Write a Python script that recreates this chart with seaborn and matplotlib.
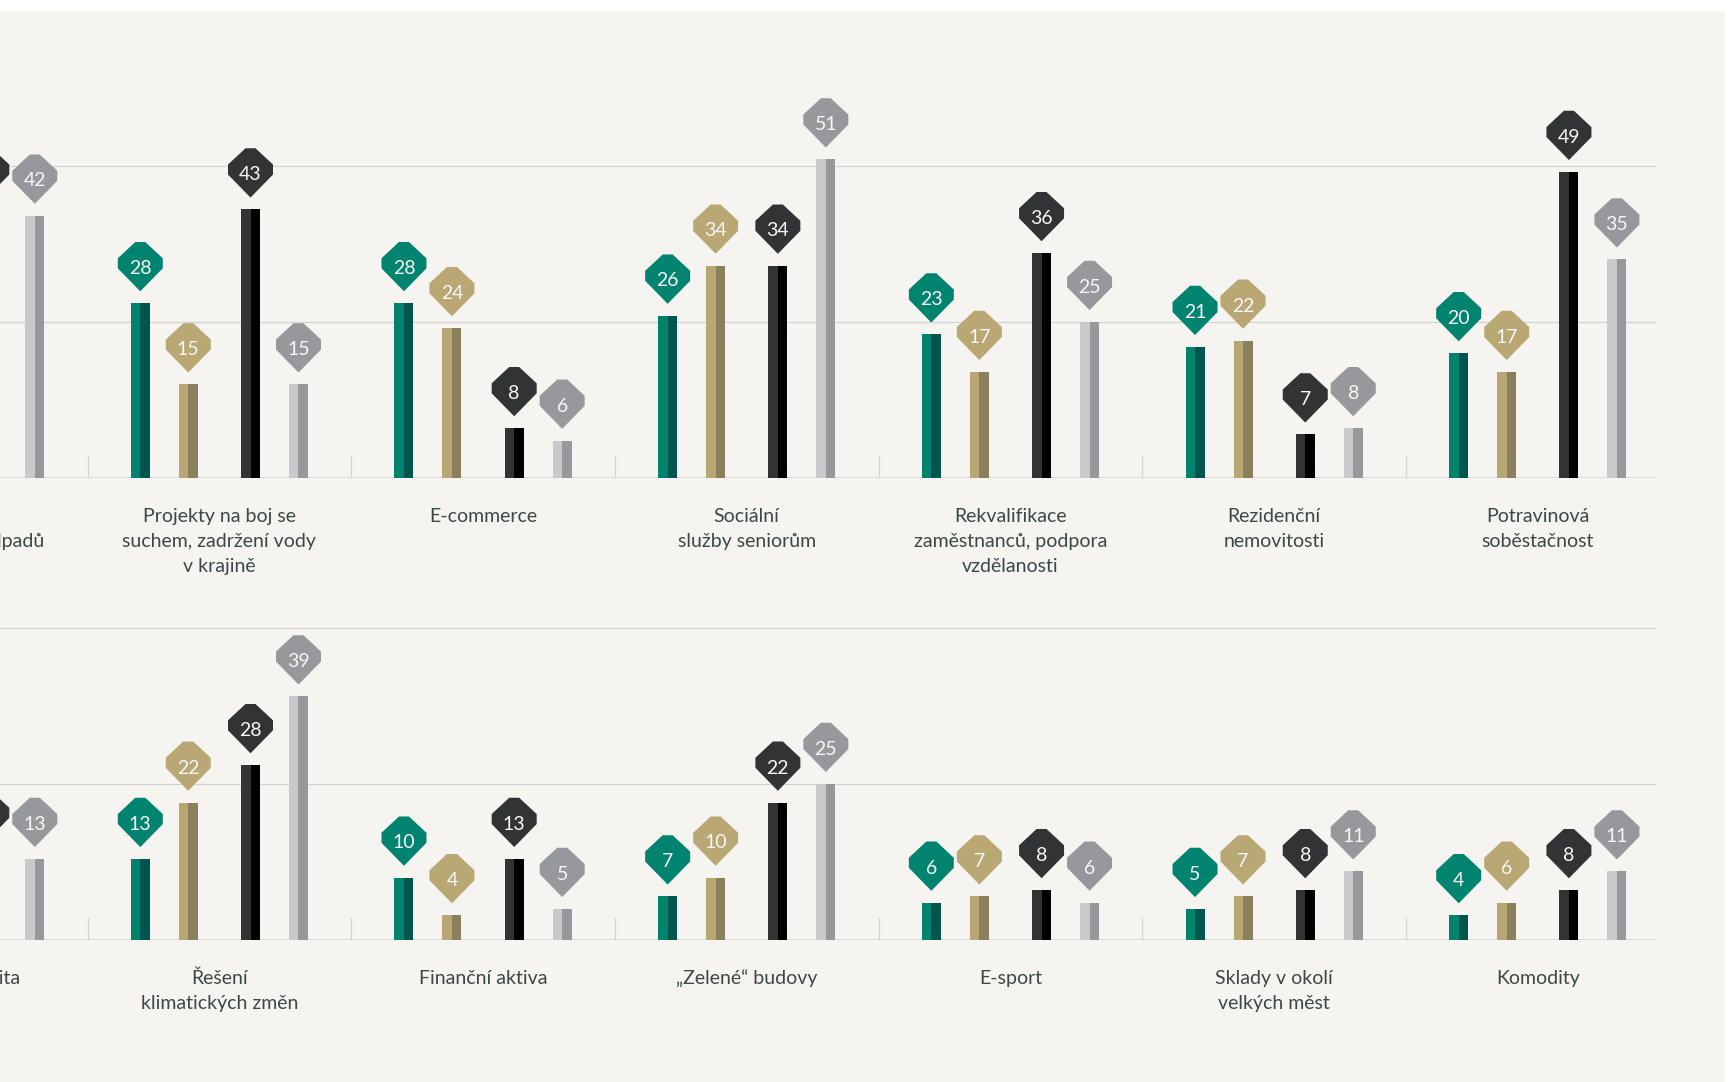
import numpy as np
import pandas as pd
import matplotlib
matplotlib.use("Agg")
import matplotlib.pyplot as plt
from matplotlib.path import Path
from matplotlib.patches import Rectangle
import seaborn as sns

# ---------------- data ----------------
series = ["Série 1", "Série 2", "Série 3", "Série 4"]

top_categories = [
    "Recyklace\na zpracování odpadů",
    "Projekty na boj se\nsuchem, zadržení vody\nv krajině",
    "E-commerce",
    "Sociální\nslužby seniorům",
    "Rekvalifikace\nzaměstnanců, podpora\nvzdělanosti",
    "Rezidenční\nnemovitosti",
    "Potravinová\nsoběstačnost",
]
top_s1 = [np.nan, 28, 28, 26, 23, 21, 20]
top_s2 = [np.nan, 15, 24, 34, 17, 22, 17]
top_s3 = [43, 43, 8, 34, 36, 7, 49]
top_s4 = [42, 15, 6, 51, 25, 8, 35]

bottom_categories = [
    "Elektromobilita",
    "Řešení\nklimatických změn",
    "Finanční aktiva",
    "\u201eZelené\u201c budovy",
    "E-sport",
    "Sklady v okolí\nvelkých měst",
    "Komodity",
]
bot_s1 = [np.nan, 13, 10, 7, 6, 5, 4]
bot_s2 = [np.nan, 22, 4, 10, 7, 7, 6]
bot_s3 = [14, 28, 13, 22, 8, 8, 8]
bot_s4 = [13, 39, 5, 25, 6, 11, 11]

# ---------------- style ----------------
BAR_LIGHT = ["#00826d", "#b8a673", "#333333", "#c8c9cb"]
BAR_DARK = ["#00564f", "#8b7f5d", "#000000", "#97989b"]
DIAMOND = ["#00846f", "#b9a774", "#323335", "#97989b"]
OFFSETS = [-0.30, -0.118, 0.118, 0.30]
BAR_W = 0.072
BG = "#f5f4f0"
GRID = "#d2d2d2"
TEXT = "#3a4848"

sns.set_theme(style="white")
plt.rcParams["font.family"] = ["Lato", "DejaVu Sans"]

W, H, DPI = 1734, 1082, 100
PX_PER_UNIT = 6.25
PT = 72.0 / DPI  # points per pixel

fig = plt.figure(figsize=(W / DPI, H / DPI), dpi=DPI, facecolor="white")
fig.patches.append(Rectangle((0, 0), 1725 / W, (H - 11) / H, transform=fig.transFigure,
                             facecolor=BG, edgecolor="none", zorder=-10))

# diamond-like label marker (pixel units, origin at bar top)
verts = [(0, 11.7), (22.5, 34.7), (22.5, 44.7), (5, 61), (-5, 61),
         (-22.5, 44.7), (-22.5, 34.7), (0, 11.7)]
codes = [Path.MOVETO] + [Path.LINETO] * 6 + [Path.CLOSEPOLY]
diamond = Path(verts, codes)
marker_size_pt = 2 * 61 * PT


def draw_panel(baseline_px, top_px, cats, vals):
    ax = fig.add_axes([0, (H - baseline_px) / H, 1657 / W, (baseline_px - top_px) / H])
    ax.set_xlim(0.168, 6.452)
    ax.set_ylim(0, (baseline_px - top_px) / PX_PER_UNIT)
    ax.set_axis_off()

    rows = []
    for j, s in enumerate(series):
        for i, c in enumerate(cats):
            rows.append({"group": i, "category": c, "series": s,
                         "x": i + OFFSETS[j], "value": vals[j][i]})
    df = pd.DataFrame(rows).dropna(subset=["value"])

    for yv in (25, 50):
        ax.axhline(yv, color=GRID, lw=1.2 * PT, zorder=0)
    ax.axhline(0, color="#d6d6d6", lw=1.8 * PT, zorder=1)
    ax.vlines(np.arange(0.5, len(cats) - 1), 0, 3.7, color="#d3d3d3", lw=1.3 * PT, zorder=1)

    for j, s in enumerate(series):
        d = df[df["series"] == s]
        ax.bar(d["x"] - BAR_W / 4, d["value"], width=BAR_W / 2, color=BAR_LIGHT[j],
               linewidth=0, zorder=2)
        ax.bar(d["x"] + BAR_W / 4, d["value"], width=BAR_W / 2, color=BAR_DARK[j],
               linewidth=0, zorder=2)

    sns.scatterplot(data=df, x="x", y="value", hue="series", hue_order=series,
                    palette=dict(zip(series, DIAMOND)), marker=diamond,
                    s=marker_size_pt ** 2, linewidth=0, edgecolor="none",
                    legend=False, ax=ax, zorder=4)

    for _, r in df.iterrows():
        ax.annotate(f"{int(r['value'])}", (r["x"], r["value"]), xytext=(0, 29.0 * PT),
                    textcoords="offset points", ha="center", va="baseline",
                    color="#f7f7f7", fontsize=14, fontweight="normal", zorder=5,
                    annotation_clip=False)

    for i, c in enumerate(cats):
        for k, line in enumerate(c.split("\n")):
            ax.annotate(line, (i, 0), xytext=(0, -(44.4 + 25 * k) * PT),
                        textcoords="offset points", ha="center", va="baseline",
                        color=TEXT, fontsize=14, fontweight="normal",
                        annotation_clip=False)
    return ax


draw_panel(478, 11, top_categories, [top_s1, top_s2, top_s3, top_s4])
draw_panel(940, 560, bottom_categories, [bot_s1, bot_s2, bot_s3, bot_s4])

fig.savefig("out.png", dpi=DPI, facecolor=fig.get_facecolor())
